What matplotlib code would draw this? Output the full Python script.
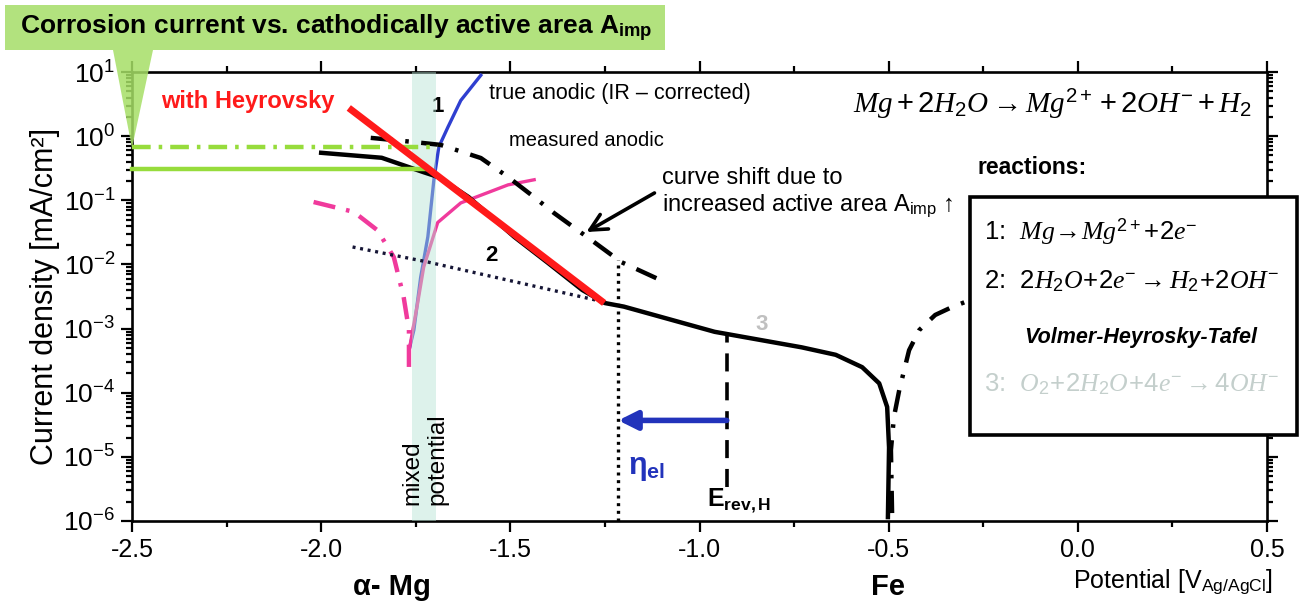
import numpy as np
import matplotlib.pyplot as plt
from matplotlib.patches import Rectangle, Polygon
from matplotlib.ticker import MultipleLocator, LogLocator, NullFormatter

plt.rcParams['font.family'] = ['Liberation Sans', 'DejaVu Sans']
plt.rcParams['axes.unicode_minus'] = False
plt.rcParams['mathtext.fontset'] = 'custom'
plt.rcParams['mathtext.rm'] = 'Liberation Sans'
plt.rcParams['mathtext.it'] = 'Liberation Serif:italic'
plt.rcParams['mathtext.bf'] = 'Liberation Sans:bold'
plt.rcParams['mathtext.sf'] = 'Liberation Sans'

# potentials in V(Ag/AgCl), current densities in mA/cm2
cath_E = [-2.00, -1.84, -1.73, -1.69, -1.61, -1.49, -1.40, -1.31, -1.25, -1.20,
          -0.96, -0.73, -0.64, -0.57, -0.525, -0.504, -0.499, -0.502]
cath_i = [0.55, 0.46, 0.275, 0.23, 0.112, 0.027, 0.0105, 0.0040, 0.0025, 0.0022,
          8.9e-4, 5.1e-4, 3.9e-4, 2.5e-4, 1.4e-4, 6.0e-5, 1.4e-5, 1.15e-6]

heyr_E = [-1.927, -1.252]
heyr_i = [2.75, 2.5e-3]

true_an_E = [-1.766, -1.755, -1.737, -1.718, -1.702, -1.689, -1.665, -1.631, -1.578]
true_an_i = [5.1e-4, 9.5e-4, 6.3e-3, 0.027, 0.21, 0.68, 1.38, 3.6, 8.9]

pink_E = [-1.766, -1.745, -1.729, -1.692, -1.631, -1.506, -1.437]
pink_i = [5.1e-4, 2.5e-3, 9.1e-3, 0.045, 0.091, 0.174, 0.209]

pink_dd_E = [-2.020, -1.914, -1.851, -1.808, -1.782, -1.768, -1.768]
pink_dd_i = [0.094, 0.066, 0.034, 0.013, 3.1e-3, 9.5e-4, 1.76e-4]

tafel_E = [-1.917, -1.718, -1.252]
tafel_i = [0.0187, 0.0109, 2.6e-3]

meas_an_E = [-1.869, -1.755, -1.684, -1.578, -1.506, -1.437, -1.384, -1.286, -1.207, -1.114]
meas_an_i = [0.94, 0.81, 0.73, 0.456, 0.231, 0.112, 0.063, 0.024, 0.0109, 6.1e-3]

fe_E = [-0.491, -0.494, -0.486, -0.472, -0.446, -0.419, -0.377, -0.332, -0.284, -0.20]
fe_i = [1.33e-6, 1.28e-5, 4.2e-5, 1.1e-4, 4.6e-4, 9.5e-4, 1.63e-3, 2.17e-3, 2.79e-3, 4.0e-3]

i_corr_shift = 0.68     # green dash-dot level
i_corr = 0.31           # green solid level
E_green_dd = -1.692
E_green = -1.718
E_mix = (-1.761, -1.697)
E_corr = -1.2146
i_corr_top = 0.0117
E_rev = -0.928
i_rev = (3.4e-6, 8.5e-4)
i_arrow = 3.7e-5

xticks = [-2.5, -2.0, -1.5, -1.0, -0.5, 0.0, 0.5]

W, H = 1303, 613


def fx(px):
    return px / W


def fy(py):
    return 1 - py / H


fig = plt.figure(figsize=(W / 100, H / 100), dpi=100)
ax = fig.add_axes([fx(132), fy(521), fx(1267) - fx(132), fy(72) - fy(521)])
ax.set_yscale('log')
ax.set_xlim(-2.5, 0.5)
ax.set_ylim(1e-6, 1e1)

# mixed potential band (drawn over the anodic curves, they look lighter there)
ax.plot(true_an_E, true_an_i, color='#2f3fd0', lw=2.4, zorder=3)
ax.plot(pink_E, pink_i, color='#f03a9c', lw=2.4, zorder=3)
ax.plot(pink_dd_E, pink_dd_i, color='#f03a9c', lw=3.2, zorder=3,
        linestyle=(0, (5, 2.5, 0.8, 2.5)))
ax.axvspan(E_mix[0], E_mix[1], color='#b5e3d3', alpha=0.45, lw=0, zorder=4)

ax.plot(tafel_E, tafel_i, color='#151535', lw=2.4, linestyle=(0, (0.9, 1.4)), zorder=5)
ax.plot(cath_E, cath_i, color='black', lw=3.2, zorder=6)
ax.plot(meas_an_E, meas_an_i, color='black', lw=3.2, zorder=5,
        linestyle=(0, (5, 2.8, 0.8, 2.8)))
ax.plot(fe_E, fe_i, color='black', lw=3.2, zorder=5,
        linestyle=(0, (5, 2.8, 0.8, 2.8)))
ax.plot(heyr_E, heyr_i, color='#ff1a1a', lw=5, solid_capstyle='butt', zorder=7)

ax.plot([-2.5, E_green_dd], [i_corr_shift, i_corr_shift], color='#97dc3c', lw=3.2,
        linestyle=(0, (4.2, 1.8, 0.8, 1.8)), zorder=6, clip_on=False)
ax.plot([-2.5, E_green], [i_corr, i_corr], color='#97dc3c', lw=3.2, zorder=6,
        clip_on=False)

ax.plot([E_corr, E_corr], [1e-6, i_corr_top], color='black', lw=2.4,
        linestyle=(0, (0.9, 1.4)), zorder=5)
ax.plot([E_rev, E_rev], list(i_rev), color='black', lw=2.6,
        linestyle=(0, (5, 3)), zorder=5)
ax.annotate('', xy=(E_corr, i_arrow), xytext=(E_rev, i_arrow),
            arrowprops=dict(arrowstyle='-|>', lw=4, color='#2233bb',
                            mutation_scale=28, shrinkA=0, shrinkB=0), zorder=6)
ax.annotate('', xy=(-1.299, 0.032), xytext=(-1.119, 0.13),
            arrowprops=dict(arrowstyle='->', lw=2.6, color='black',
                            mutation_scale=30, shrinkA=0, shrinkB=0), zorder=6)

# axes styling
for s in ax.spines.values():
    s.set_linewidth(1.9)
ax.xaxis.set_major_locator(MultipleLocator(0.5))
ax.xaxis.set_minor_locator(MultipleLocator(0.25))
ax.set_xticks(xticks)
ax.set_xticklabels(['%.1f' % v for v in xticks])
ax.yaxis.set_major_locator(LogLocator(base=10, numticks=10))
ax.yaxis.set_minor_locator(LogLocator(base=10, subs=np.arange(2, 10), numticks=10))
ax.yaxis.set_minor_formatter(NullFormatter())
ax.tick_params(which='both', direction='out', top=True, right=True, width=1.6)
ax.tick_params(which='major', length=8)
ax.tick_params(which='minor', length=4.5)
ax.tick_params(axis='x', labelsize=18, pad=4)
ax.tick_params(axis='y', labelsize=19, pad=4)
ax.set_ylabel('Current density [mA/cm²]', fontsize=22, labelpad=2)

# texts inside the plot
ax.text(-2.195, 3.53, 'with Heyrovsky', color='#ff1a1a', fontsize=17,
        fontweight='bold', ha='center', va='center')
ax.text(-1.692, 2.85, '1', fontsize=16, fontweight='bold', ha='center', va='center')
ax.text(-1.551, 0.014, '2', fontsize=16, fontweight='bold', ha='center', va='center')
ax.text(-0.836, 1.14e-3, '3', fontsize=16, fontweight='bold', color='#c0c0c0',
        ha='center', va='center')
ax.text(-1.556, 4.7, 'true anodic (IR \u2013 corrected)', fontsize=15.5, va='center')
ax.text(-1.503, 0.84, 'measured anodic', fontsize=14.5, va='center')
ax.text(-1.100, 0.222, 'curve shift due to', fontsize=17, va='center')
ax.text(-1.100, 0.0815, 'increased active area A$_\\mathrm{imp}$ \u2191', fontsize=17,
        va='center')
ax.text(-0.067, 3.17, r'$\mathit{Mg + 2H_2O \rightarrow Mg^{2+} + 2OH^{-} + H_2}$',
        fontsize=21, ha='center', va='center')
ax.text(-0.266, 0.33, 'reactions:', fontsize=16.5, fontweight='bold', va='center')
ax.text(-1.726, 1.78e-6, 'mixed\npotential', rotation=90, fontsize=17.5,
        ha='center', va='bottom', multialignment='left', zorder=6)
ax.text(-0.981, 2.1e-6, r'$\mathbf{E_{rev,H}}$', fontsize=18, va='center')
ax.text(-1.140, 6.7e-6, '\u03b7$_\\mathbf{el}$', fontsize=22, color='#2233bb',
        fontweight='bold', ha='center', va='center')

# reactions box
box = Rectangle((fx(970), fy(435)), fx(1297) - fx(970), fy(197) - fy(435),
                transform=fig.transFigure, facecolor='white', edgecolor='black',
                lw=2.6, zorder=8)
fig.add_artist(box)
fig.text(fx(984), fy(232), r'1:  $\mathit{Mg\!\rightarrow\! Mg^{2+}\!+\!2e^{-}}$',
         fontsize=18.5, va='center', zorder=9)
fig.text(fx(984), fy(281), r'2:  $\mathit{2H_2O\!+\!2e^{-} \rightarrow H_2\!+\!2OH^{-}}$',
         fontsize=18.5, va='center', zorder=9)
fig.text(fx(1141), fy(337), 'Volmer-Heyrosky-Tafel', fontsize=15.5, fontweight='bold',
         fontstyle='italic', ha='center', va='center', zorder=9)
fig.text(fx(984), fy(384), r'3:  $\mathit{O_2\!+\!2H_2O\!+\!4e^{-} \rightarrow 4OH^{-}}$',
         fontsize=18.5, color='#c4cfcc', va='center', zorder=9)

# title callout
fig.add_artist(Rectangle((fx(5), fy(50)), fx(665) - fx(5), fy(5) - fy(50),
                         transform=fig.transFigure, facecolor='#b2e27e',
                         edgecolor='none', zorder=1))
fig.add_artist(Polygon([(fx(113), fy(50)), (fx(153), fy(50)), (fx(132), fy(148))],
                       closed=True, transform=fig.transFigure,
                       facecolor='#a6df66', edgecolor='none', alpha=0.85, zorder=9))
fig.text(fx(20), fy(28), 'Corrosion current vs. cathodically active area A$_\\mathbf{imp}$',
         fontsize=19, fontweight='bold', va='center', zorder=2)

# labels under the x axis
fig.text(fx(392), fy(587), '\u03b1- Mg', fontsize=21, fontweight='bold',
         ha='center', va='center')
fig.text(fx(888), fy(587), 'Fe', fontsize=21, fontweight='bold', ha='center', va='center')
fig.text(fx(1173), fy(582), 'Potential [V$_\\mathrm{Ag/AgCl}$]', fontsize=18,
         ha='center', va='center')

fig.savefig('out.png', dpi=100)
